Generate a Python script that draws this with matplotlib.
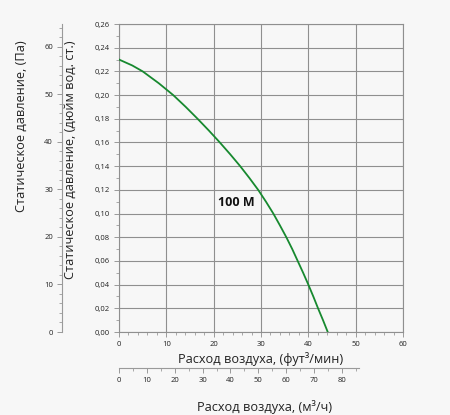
import matplotlib
matplotlib.use('Agg')
import matplotlib.pyplot as plt
from matplotlib.ticker import MultipleLocator

plt.rcParams['font.family'] = ['Open Sans', 'DejaVu Sans']

# curve: flow in cfm, static pressure in inch of water
flow_cfm = [0, 2.8, 5.0, 8.4, 11.45, 14.1, 16.6, 19.0, 21.3, 23.5, 25.6, 27.55,
            29.4, 31.05, 32.6, 34.0, 35.35, 36.6, 37.75, 38.9, 40.0, 41.05,
            42.05, 43.1, 44.1]
pressure_in = [0.230, 0.225, 0.220, 0.210, 0.200, 0.190, 0.180, 0.170, 0.160,
               0.150, 0.140, 0.130, 0.120, 0.110, 0.100, 0.090, 0.080, 0.070,
               0.060, 0.050, 0.040, 0.030, 0.020, 0.010, 0.000]
curve_label = '100 M'

x_max_cfm = 60
y_max_in = 0.26
PA_PER_IN = 249.0
M3H_PER_CFM = 1.699

bg = '#f7f7f7'
grid_col = '#8f8f8f'
spine_col = '#9a9a9a'
text_col = '#222222'
green = '#17892f'

fig = plt.figure(figsize=(4.5, 4.15), dpi=100, facecolor=bg)
ax = fig.add_axes([119 / 450, 1 - 332 / 415, 284 / 450, 308 / 415])
ax.set_facecolor(bg)

ax.plot(flow_cfm, pressure_in, color=green, linewidth=1.3, zorder=3,
        solid_joinstyle='round')
ax.text(24.7, 0.1097, curve_label, fontsize=9, fontweight='bold',
        ha='center', va='center', color='#111111')

ax.set_xlim(0, x_max_cfm)
ax.set_ylim(0, y_max_in)
ax.xaxis.set_major_locator(MultipleLocator(10))
ax.xaxis.set_minor_locator(MultipleLocator(2))
ax.yaxis.set_major_locator(MultipleLocator(0.02))
ax.yaxis.set_minor_locator(MultipleLocator(0.01))
ax.yaxis.set_major_formatter(lambda v, p: f'{v:.2f}'.replace('.', ','))
ax.grid(True, which='major', color=grid_col, linewidth=0.8)
for s in ax.spines.values():
    s.set_color(grid_col)
    s.set_linewidth(0.8)
ax.tick_params(which='both', colors=spine_col, labelcolor=text_col,
               labelsize=5.5, pad=3)
ax.tick_params(which='major', length=3.5, width=0.7)
ax.tick_params(which='minor', length=2.5, width=0.6)

# pascal axis on the far left
ax_pa = ax.twinx()
ax_pa.set_ylim(0, y_max_in * PA_PER_IN)
ax_pa.yaxis.set_ticks_position('left')
ax_pa.yaxis.set_label_position('left')
ax_pa.spines['left'].set_position(('outward', 41))
for name in ['top', 'right', 'bottom']:
    ax_pa.spines[name].set_visible(False)
ax_pa.spines['left'].set_color(spine_col)
ax_pa.spines['left'].set_linewidth(0.8)
ax_pa.yaxis.set_major_locator(MultipleLocator(10))
ax_pa.yaxis.set_minor_locator(MultipleLocator(2))
ax_pa.tick_params(which='both', colors=spine_col, labelcolor=text_col,
                  labelsize=5.5, pad=3)
ax_pa.tick_params(which='major', length=3.5, width=0.7)
ax_pa.tick_params(which='minor', length=2.5, width=0.6)

# m3/h axis below
ax_m3 = ax.twiny()
ax_m3.set_xlim(0, x_max_cfm * M3H_PER_CFM)
ax_m3.xaxis.set_ticks_position('bottom')
ax_m3.spines['bottom'].set_position(('outward', 26))
for name in ['top', 'right', 'left']:
    ax_m3.spines[name].set_visible(False)
ax_m3.spines['bottom'].set_color(spine_col)
ax_m3.spines['bottom'].set_linewidth(0.8)
ax_m3.spines['bottom'].set_bounds(0, 86)
ax_m3.set_xticks(range(0, 90, 10))
ax_m3.set_xticks(range(5, 90, 10), minor=True)
ax_m3.tick_params(which='both', colors=spine_col, labelcolor=text_col,
                  labelsize=5.5, pad=3)
ax_m3.tick_params(which='major', length=3.5, width=0.7)
ax_m3.tick_params(which='minor', length=2.5, width=0.6)

lab = dict(fontsize=9.2, color=text_col)
fig.text(261 / 450, 1 - 359 / 415, 'Расход воздуха, (фут³/мин)',
         ha='center', va='center', **lab)
fig.text(265 / 450, 1 - 407 / 415, 'Расход воздуха, (м³/ч)',
         ha='center', va='center', **lab)
fig.text(21 / 450, 1 - 40 / 415, 'Статическое давление, (Па)',
         rotation=90, ha='center', va='top', **lab)
fig.text(70 / 450, 1 - 40 / 415, 'Статическое давление, (дюйм вод. ст.)',
         rotation=90, ha='center', va='top', **lab)

fig.savefig('out.png', dpi=100, facecolor=bg)
